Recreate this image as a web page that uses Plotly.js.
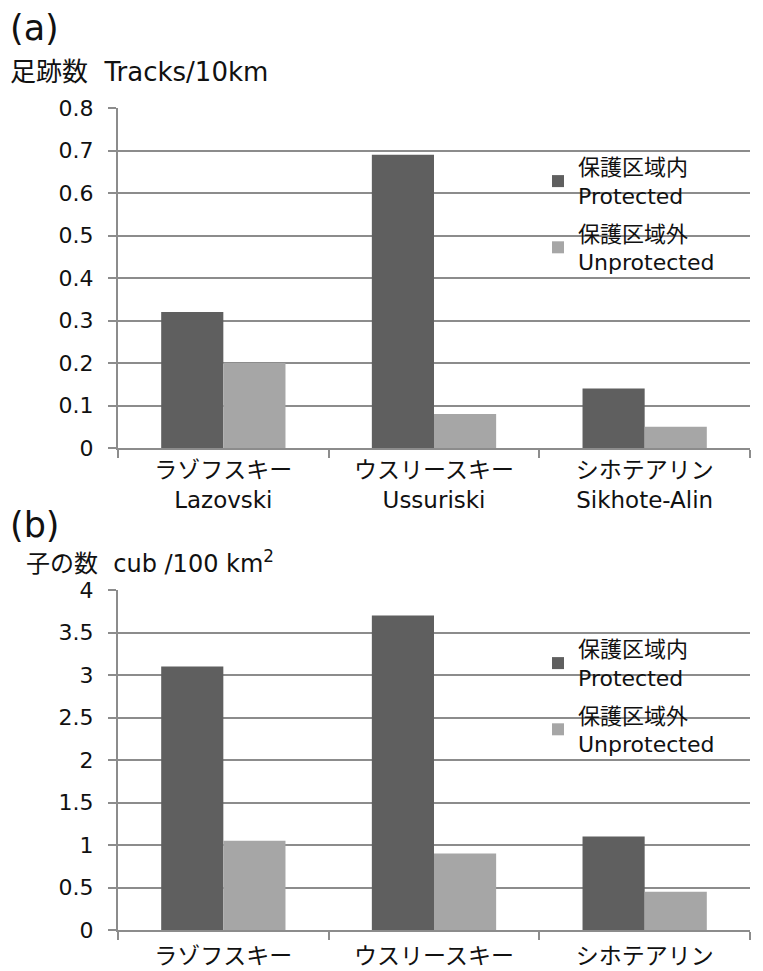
<!DOCTYPE html>
<html><head><meta charset="utf-8">
<script src="https://cdn.plot.ly/plotly-3.0.1.min.js"></script>
<style>body{margin:0}#c{width:763px;height:971px}</style>
</head><body><div id="c"></div>
<script>
const categories = ["ラゾフスキー<br>Lazovski", "ウスリースキー<br>Ussuriski", "シホテアリン<br>Sikhote-Alin"];
const categoriesB = ["ラゾフスキー", "ウスリースキー", "シホテアリン"];
const tracksProtected = [0.32, 0.69, 0.14];
const tracksUnprotected = [0.20, 0.08, 0.05];
const cubsProtected = [3.1, 3.7, 1.1];
const cubsUnprotected = [1.05, 0.9, 0.45];
const nameProtected = "保護区域内<br>Protected";
const nameUnprotected = "保護区域外<br>Unprotected";
const yTicksA = [0, 0.1, 0.2, 0.3, 0.4, 0.5, 0.6, 0.7, 0.8];
const yTickTextA = ["0", "0.1", "0.2", "0.3", "0.4", "0.5", "0.6", "0.7", "0.8"];
const yTicksB = [0, 0.5, 1, 1.5, 2, 2.5, 3, 3.5, 4];
const yTickTextB = ["0", "0.5", "1", "1.5", "2", "2.5", "3", "3.5", "4"];

const dark = "#5f5f5f", light = "#a6a6a6", grid = "#8c8c8c";
const font = "DejaVu Sans, Noto Sans CJK JP, sans-serif";

const traces = [
  {type: "bar", x: categories, y: tracksProtected, name: nameProtected, marker: {color: dark}, xaxis: "x", yaxis: "y", legend: "legend", legendgroup: "a1"},
  {type: "bar", x: categories, y: tracksUnprotected, name: nameUnprotected, marker: {color: light}, xaxis: "x", yaxis: "y", legend: "legend", legendgroup: "a2"},
  {type: "bar", x: categoriesB, y: cubsProtected, name: nameProtected, marker: {color: dark}, xaxis: "x2", yaxis: "y2", legend: "legend2", legendgroup: "b1"},
  {type: "bar", x: categoriesB, y: cubsUnprotected, name: nameUnprotected, marker: {color: light}, xaxis: "x2", yaxis: "y2", legend: "legend2", legendgroup: "b2"}
];

const xCommon = {
  domain: [118/763, 750/763], showline: true, linecolor: grid, linewidth: 2,
  ticks: "outside", tickson: "boundaries", ticklen: 8, tickwidth: 2, tickcolor: grid,
  showgrid: false, tickfont: {size: 23, color: "#111", family: font}, fixedrange: true
};
const yCommon = {
  showline: true, linecolor: grid, linewidth: 2, showgrid: true, gridcolor: grid, gridwidth: 2,
  ticks: "outside", ticklen: 8, tickwidth: 2, tickcolor: grid, zeroline: false,
  tickfont: {size: 22, color: "#111", family: font}, tickmode: "array", ticklabelstandoff: 10
};
const legendCommon = {
  font: {size: 22, family: font, color: "#111"}, bgcolor: "rgba(255,255,255,0)",
  xanchor: "left", yanchor: "top", tracegroupgap: 6, itemwidth: 30
};

const layout = {
  width: 763, height: 971,
  margin: {l: 0, r: 0, t: 0, b: 0},
  paper_bgcolor: "white", plot_bgcolor: "white",
  font: {family: font, color: "#111"},
  barmode: "group", bargap: 0.41, bargroupgap: 0,
  xaxis: Object.assign({}, xCommon, {anchor: "y"}),
  yaxis: Object.assign({}, yCommon, {domain: [1-448/971, 1-108/971], range: [0, 0.8], tickvals: yTicksA, ticktext: yTickTextA, anchor: "x"}),
  xaxis2: Object.assign({}, xCommon, {anchor: "y2", ticklabelstandoff: 4}),
  yaxis2: Object.assign({}, yCommon, {domain: [1-930/971, 1-590/971], range: [0, 4], tickvals: yTicksB, ticktext: yTickTextB, anchor: "x2"}),
  legend: Object.assign({}, legendCommon, {x: 538/763, y: 1-146/971}),
  legend2: Object.assign({}, legendCommon, {x: 538/763, y: 1-628/971}),
  showlegend: true,
  annotations: [
    {text: "(a)", xref: "paper", yref: "paper", x: 8/763, y: 1-28/971, xanchor: "left", yanchor: "middle", showarrow: false, font: {size: 35, family: font}},
    {text: "足跡数  Tracks/10km", xref: "paper", yref: "paper", x: 8/763, y: 1-72/971, xanchor: "left", yanchor: "middle", showarrow: false, font: {size: 26, family: font}},
    {text: "(b)", xref: "paper", yref: "paper", x: 8/763, y: 1-525/971, xanchor: "left", yanchor: "middle", showarrow: false, font: {size: 35, family: font}},
    {text: "子の数  cub /100 km<sup>2</sup>", xref: "paper", yref: "paper", x: 24/763, y: 1-562/971, xanchor: "left", yanchor: "middle", showarrow: false, font: {size: 24, family: font}}
  ]
};

Plotly.newPlot("c", traces, layout, {staticPlot: true});
</script>
</body></html>
